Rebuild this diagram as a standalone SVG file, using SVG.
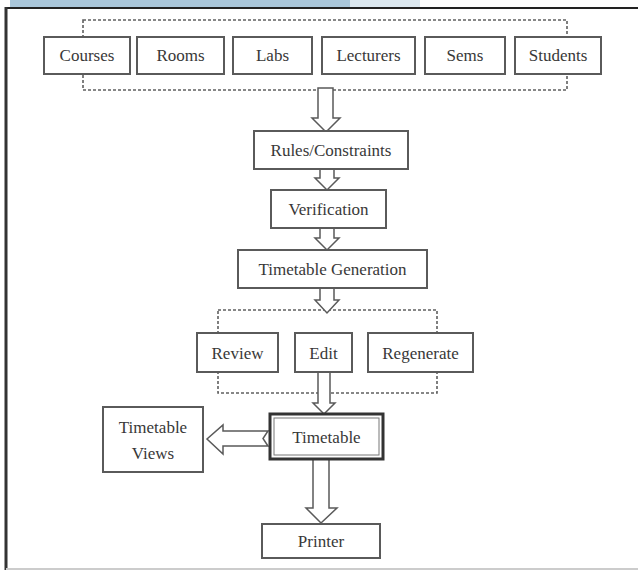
<svg xmlns="http://www.w3.org/2000/svg" width="638" height="570" viewBox="0 0 638 570">
<style>
.box{fill:#fff;stroke:#5a5a5a;stroke-width:2}
.grp{fill:none;stroke:#606060;stroke-width:1.6;stroke-dasharray:3 2}
.arr{fill:#fff;stroke:#5a5a5a;stroke-width:1.5;stroke-linejoin:miter}
text{font-family:"Liberation Serif","Times New Roman",serif;font-size:17px;fill:#383838;text-anchor:middle}
</style>
<rect x="0" y="0" width="638" height="570" fill="#fff"/>
<rect x="10" y="0" width="340" height="7" fill="#a9c6da"/>
<rect x="350" y="0" width="70" height="7" fill="#dbe7ef"/>
<line x1="6" y1="8" x2="638" y2="8" stroke="#222" stroke-width="2"/>
<line x1="6" y1="7" x2="6" y2="570" stroke="#333" stroke-width="3"/>
<line x1="6" y1="569" x2="638" y2="569" stroke="#ccc" stroke-width="2"/>

<g id="connectors">
<rect class="grp" x="83" y="20" width="484" height="70"/>
<rect class="grp" x="218" y="310" width="219" height="83"/>
<polygon class="arr" points="318,88 333,88 333,118 340,118 326,132 312,118 318,118"/>
<polygon class="arr" points="320,169 334,169 334,178 339,178 327,190 315,178 320,178"/>
<polygon class="arr" points="320,228 334,228 334,238 339,238 327,250 315,238 320,238"/>
<polygon class="arr" points="320,288 334,288 334,300 339,300 327,313 315,300 320,300"/>
<polygon class="arr" points="318,372 330,372 330,403 335,403 324,414 313,403 318,403"/>
<polygon class="arr" points="268,431 223,431 223,425 207,439 223,454 223,446 268,446 263,438.5"/>
<polygon class="arr" points="313,459 329,459 329,508 337,508 321,523 306,508 313,508"/>
</g>

<g id="n-courses"><rect class="box" x="44" y="37" width="86" height="37"/><text x="87" y="61">Courses</text></g>
<g id="n-rooms"><rect class="box" x="137" y="37" width="87" height="37"/><text x="180.5" y="61">Rooms</text></g>
<g id="n-labs"><rect class="box" x="233" y="37" width="79" height="37"/><text x="272.5" y="61">Labs</text></g>
<g id="n-lecturers"><rect class="box" x="322" y="37" width="93" height="37"/><text x="368.5" y="61">Lecturers</text></g>
<g id="n-sems"><rect class="box" x="425" y="37" width="80" height="37"/><text x="465" y="61">Sems</text></g>
<g id="n-students"><rect class="box" x="515" y="37" width="86" height="37"/><text x="558" y="61">Students</text></g>

<g id="n-rules"><rect class="box" x="254" y="131" width="154" height="38"/><text x="331" y="156">Rules/Constraints</text></g>
<g id="n-verification"><rect class="box" x="271" y="190" width="115" height="38"/><text x="328.5" y="215">Verification</text></g>
<g id="n-generation"><rect class="box" x="238" y="250" width="189" height="38"/><text x="332.5" y="275">Timetable Generation</text></g>

<g id="n-review"><rect class="box" x="197" y="333" width="81" height="39"/><text x="237.5" y="359">Review</text></g>
<g id="n-edit"><rect class="box" x="295" y="333" width="57" height="39"/><text x="323.5" y="359">Edit</text></g>
<g id="n-regenerate"><rect class="box" x="368" y="333" width="105" height="39"/><text x="420.5" y="359">Regenerate</text></g>

<g id="n-timetable"><rect x="270" y="414" width="113" height="45" fill="#fff" stroke="#333" stroke-width="3"/><rect x="274" y="418" width="105" height="37" fill="none" stroke="#777" stroke-width="1"/><text x="326.5" y="443">Timetable</text></g>
<g id="n-views"><rect class="box" x="103" y="407" width="100" height="65"/><text x="153" y="433">Timetable</text><text x="153" y="459">Views</text></g>
<g id="n-printer"><rect class="box" x="262" y="524" width="118" height="34"/><text x="321" y="547">Printer</text></g>
</svg>
